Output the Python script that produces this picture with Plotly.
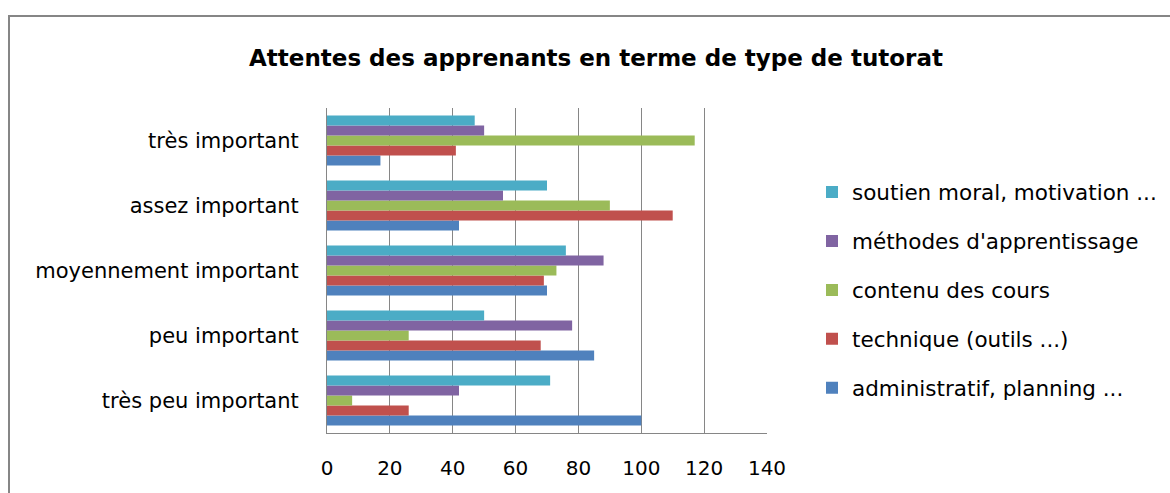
import plotly.graph_objects as go

categories = ["très peu important", "peu important", "moyennement important",
              "assez important", "très important"]

series_names = ["administratif, planning ...", "technique (outils ...)",
                "contenu des cours", "méthodes d'apprentissage",
                "soutien moral, motivation ..."]

administratif = [100, 85, 70, 42, 17]
technique = [26, 68, 69, 110, 41]
contenu = [8, 26, 73, 90, 117]
methodes = [42, 78, 88, 56, 50]
soutien = [71, 50, 76, 70, 47]

series_values = [administratif, technique, contenu, methodes, soutien]
colors = ["#4F81BD", "#C0504D", "#9BBB59", "#8064A2", "#4BACC6"]

x_ticks = [0, 20, 40, 60, 80, 100, 120, 140]

FONT = "DejaVu Sans"

fig = go.Figure()
n = len(series_names)
for i, (name, vals, col) in enumerate(zip(series_names, series_values, colors)):
    fig.add_trace(go.Bar(
        y=categories, x=vals, name=name, orientation="h",
        marker=dict(color=col, line=dict(width=0)),
        legendgroup=f"g{i}", legendrank=n - i,
    ))

fig.update_layout(
    width=1170, height=493,
    paper_bgcolor="white", plot_bgcolor="white",
    barmode="group", bargap=0.23, bargroupgap=0,
    margin=dict(l=327, r=403, t=108, b=60, autoexpand=False),
    font=dict(family=FONT, color="#000000"),
    title=dict(text="Attentes des apprenants en terme de type de tutorat",
               x=(246 + 946) / 2 / 1170, xanchor="center",
               y=1 - 58 / 493, yanchor="middle",
               font=dict(size=23, family=FONT, color="#000000", weight="bold")),
    showlegend=True,
    legend=dict(traceorder="grouped", tracegroupgap=18,
                x=(812 - 327) / 440, xanchor="left",
                y=(433 - 290) / 325, yanchor="middle",
                font=dict(size=21.5, family=FONT, color="#000000"),
                itemwidth=30, bgcolor="rgba(0,0,0,0)"),
    xaxis=dict(range=[0, 140], tickvals=x_ticks, ticktext=[str(v) for v in x_ticks],
               showgrid=True, gridcolor="#868686", gridwidth=1,
               showline=True, linecolor="#868686", linewidth=1,
               zeroline=False, ticks="", ticklabelstandoff=17,
               tickfont=dict(size=20, family=FONT, color="#000000"),
               fixedrange=True),
    yaxis=dict(showgrid=False, showline=True, linecolor="#868686", linewidth=1,
               zeroline=False, ticks="", ticklabelstandoff=23,
               tickfont=dict(size=21, family=FONT, color="#000000"),
               fixedrange=True),
)

fig.add_shape(type="rect", xref="paper", yref="paper",
              x0=(9 - 327) / 440, x1=(1200 - 327) / 440,
              y0=(433 - 520) / 325, y1=(433 - 16) / 325,
              line=dict(color="#868686", width=2), fillcolor="rgba(0,0,0,0)",
              layer="below")

fig.write_html("out.html",
               config={"displayModeBar": False},
               post_script="document.body.style.margin='0';document.body.style.overflow='hidden';")
